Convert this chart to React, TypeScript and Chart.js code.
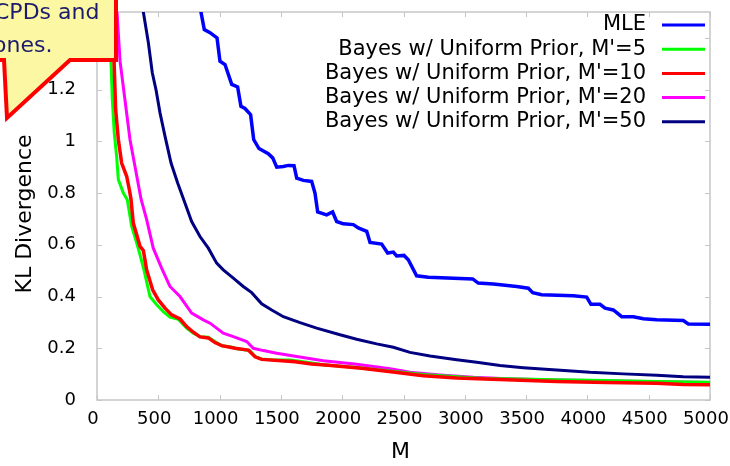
import React, { useEffect, useRef } from 'react';
import { Chart, registerables } from 'chart.js';

Chart.register(...registerables);

const FONT = '"DejaVu Sans", Verdana, sans-serif';

const xTicks = [0, 500, 1000, 1500, 2000, 2500, 3000, 3500, 4000, 4500, 5000];
const yTicks = [0, 0.2, 0.4, 0.6, 0.8, 1, 1.2, 1.4];

const seriesLabels = [
  'MLE',
  "Bayes w/ Uniform Prior, M'=5",
  "Bayes w/ Uniform Prior, M'=10",
  "Bayes w/ Uniform Prior, M'=20",
  "Bayes w/ Uniform Prior, M'=50",
];
const seriesColors = ['#0000ff', '#00ff00', '#ff0000', '#ff00ff', '#000080'];
const calloutLines = ['CPDs and', 'ones.'];
const xTitle = 'M';
const yTitle = 'KL Divergence';

const mleM = [800, 848, 875, 922, 979, 1003, 1044, 1099, 1147, 1174, 1207, 1253, 1278, 1321, 1397, 1433, 1466, 1520, 1561, 1607, 1629, 1683, 1751, 1778, 1800, 1873, 1922, 1955, 2009, 2091, 2131, 2200, 2227, 2322, 2371, 2417, 2444, 2504, 2539, 2607, 2702, 3064, 3110, 3233, 3423, 3518, 3554, 3627, 3885, 3994, 4029, 4103, 4144, 4211, 4280, 4375, 4456, 4565, 4782, 4823, 5000];
const mleKL = [1.66, 1.50, 1.432, 1.42, 1.40, 1.31, 1.297, 1.22, 1.21, 1.135, 1.127, 1.103, 1.007, 0.972, 0.952, 0.936, 0.90, 0.903, 0.907, 0.906, 0.858, 0.849, 0.845, 0.80, 0.727, 0.716, 0.727, 0.690, 0.681, 0.678, 0.665, 0.652, 0.609, 0.603, 0.568, 0.572, 0.557, 0.559, 0.542, 0.48, 0.475, 0.468, 0.452, 0.448, 0.439, 0.432, 0.415, 0.407, 0.403, 0.398, 0.370, 0.370, 0.355, 0.348, 0.322, 0.322, 0.314, 0.310, 0.307, 0.294, 0.293];

const b5M = [90, 114, 125, 141, 160, 174, 215, 247, 283, 324, 351, 383, 432, 487, 541, 595, 663, 731, 786, 840, 908, 962, 1017, 1085, 1153, 1248, 1289, 1343, 1438, 1574, 1710, 1846, 2118, 2390, 2662, 2934, 3192, 3342, 3749, 4157, 4565, 5000];
const b5KL = [1.70, 1.31, 1.161, 1.032, 0.942, 0.852, 0.80, 0.774, 0.671, 0.607, 0.561, 0.503, 0.40, 0.368, 0.342, 0.320, 0.312, 0.278, 0.258, 0.245, 0.243, 0.226, 0.210, 0.206, 0.197, 0.191, 0.168, 0.159, 0.155, 0.155, 0.146, 0.136, 0.126, 0.112, 0.099, 0.090, 0.082, 0.082, 0.078, 0.075, 0.072, 0.069];

const b10M = [110, 139, 152, 174, 201, 242, 264, 277, 296, 351, 378, 405, 454, 500, 555, 609, 677, 731, 786, 840, 908, 962, 1017, 1126, 1234, 1289, 1343, 1507, 1615, 1751, 1887, 2159, 2431, 2662, 2934, 3342, 3749, 4157, 4565, 4782, 5000];
const b10KL = [1.70, 1.31, 1.123, 1.007, 0.916, 0.865, 0.813, 0.777, 0.684, 0.594, 0.578, 0.503, 0.426, 0.387, 0.355, 0.329, 0.313, 0.284, 0.262, 0.244, 0.240, 0.222, 0.210, 0.200, 0.193, 0.167, 0.157, 0.152, 0.148, 0.139, 0.134, 0.123, 0.107, 0.094, 0.085, 0.078, 0.072, 0.068, 0.065, 0.060, 0.059];

const b20M = [150, 188, 228, 269, 310, 359, 405, 459, 527, 595, 677, 772, 867, 922, 1030, 1112, 1221, 1275, 1357, 1466, 1629, 1846, 2118, 2390, 2553, 2798, 3070, 3342, 3749, 4157, 4565, 5000];
const b20KL = [1.60, 1.31, 1.161, 1.007, 0.903, 0.777, 0.697, 0.587, 0.51, 0.439, 0.40, 0.336, 0.31, 0.297, 0.258, 0.245, 0.226, 0.2, 0.191, 0.181, 0.168, 0.152, 0.138, 0.121, 0.107, 0.097, 0.088, 0.082, 0.077, 0.074, 0.071, 0.068];

const b50M = [330, 378, 419, 451, 481, 514, 555, 604, 658, 718, 772, 840, 908, 976, 1030, 1112, 1193, 1262, 1343, 1425, 1520, 1656, 1792, 1982, 2118, 2281, 2417, 2553, 2716, 2934, 3097, 3287, 3477, 3749, 4021, 4293, 4565, 4782, 5000];
const b50KL = [1.70, 1.50, 1.381, 1.265, 1.20, 1.11, 1.019, 0.916, 0.839, 0.761, 0.690, 0.632, 0.587, 0.529, 0.503, 0.471, 0.439, 0.415, 0.372, 0.348, 0.322, 0.299, 0.278, 0.252, 0.235, 0.217, 0.204, 0.184, 0.170, 0.156, 0.146, 0.133, 0.125, 0.116, 0.107, 0.101, 0.096, 0.090, 0.088];

const seriesX = [mleM, b5M, b10M, b20M, b50M];
const seriesY = [mleKL, b5KL, b10KL, b20KL, b50KL];
const seriesWidth = [3.5, 3, 3.5, 3, 3];
const seriesOrder = [0, 2, 1, 3, 4];

const zeroPad = (s: any) => {
  s.paddingLeft = 0;
  s.paddingRight = 0;
  s.paddingTop = 0;
  s.paddingBottom = 0;
};

const decor = {
  id: 'decor',
  beforeDatasetsDraw(chart: any) {
    const { ctx, chartArea, scales } = chart;
    const { left, right, top, bottom } = chartArea;
    ctx.save();
    ctx.strokeStyle = '#c6c6c6';
    ctx.lineWidth = 1;
    const tl = 5;
    ctx.beginPath();
    xTicks.forEach((v) => {
      const px = Math.round(scales.x.getPixelForValue(v)) + 0.5;
      ctx.moveTo(px, bottom);
      ctx.lineTo(px, bottom - tl);
      ctx.moveTo(px, top);
      ctx.lineTo(px, top + tl);
    });
    yTicks.forEach((v) => {
      const py = Math.round(scales.y.getPixelForValue(v)) + 0.5;
      ctx.moveTo(left, py);
      ctx.lineTo(left + tl, py);
      ctx.moveTo(right, py);
      ctx.lineTo(right - tl, py);
    });
    ctx.stroke();
    ctx.lineWidth = 1.5;
    ctx.strokeRect(left, top, right - left, bottom - top);
    ctx.restore();
  },
  afterDraw(chart: any) {
    const { ctx, chartArea } = chart;
    ctx.save();
    // legend
    ctx.font = `21px ${FONT}`;
    ctx.textAlign = 'right';
    ctx.textBaseline = 'middle';
    seriesLabels.forEach((lab, i) => {
      const ry = 25 + i * 24.2;
      ctx.fillStyle = '#000';
      ctx.fillText(lab, 646, ry);
      ctx.beginPath();
      ctx.strokeStyle = seriesColors[i];
      ctx.lineWidth = 3;
      ctx.moveTo(662, ry);
      ctx.lineTo(705, ry);
      ctx.stroke();
    });
    // axis titles
    ctx.fillStyle = '#000';
    ctx.font = `22px ${FONT}`;
    ctx.textAlign = 'center';
    ctx.textBaseline = 'middle';
    ctx.fillText(xTitle, (chartArea.left + chartArea.right) / 2 - 3, 452);
    ctx.save();
    ctx.translate(25, 214);
    ctx.rotate(-Math.PI / 2);
    ctx.fillText(yTitle, 0, 0);
    ctx.restore();
    // callout
    ctx.beginPath();
    ctx.moveTo(-10, -10);
    ctx.lineTo(116, -10);
    ctx.lineTo(116, 60);
    ctx.lineTo(70, 60);
    ctx.lineTo(7, 118);
    ctx.lineTo(4, 60);
    ctx.lineTo(-10, 60);
    ctx.closePath();
    ctx.fillStyle = '#fbf7a2';
    ctx.fill();
    ctx.strokeStyle = '#ff0000';
    ctx.lineWidth = 4;
    ctx.lineJoin = 'miter';
    ctx.stroke();
    ctx.fillStyle = '#1c1c6e';
    ctx.font = `22px ${FONT}`;
    ctx.textAlign = 'left';
    ctx.textBaseline = 'alphabetic';
    ctx.fillText(calloutLines[0], -6, 19);
    ctx.fillText(calloutLines[1], -7, 52);
    ctx.restore();
  },
};

export default function App() {
  const ref = useRef<HTMLCanvasElement | null>(null);
  useEffect(() => {
    if (!ref.current) return;
    const datasets = seriesLabels.map((label, i) => ({
      label,
      data: seriesX[i].map((m, j) => ({ x: m, y: seriesY[i][j] })),
      borderColor: seriesColors[i],
      backgroundColor: seriesColors[i],
      borderWidth: seriesWidth[i],
      pointRadius: 0,
      tension: 0,
      fill: false,
      clip: 0,
      order: seriesOrder[i],
    }));
    const chart = new Chart(ref.current, {
      type: 'line',
      data: { datasets },
      options: {
        animation: false,
        responsive: false,
        devicePixelRatio: 1,
        layout: { padding: { left: 0, right: 20, top: 12, bottom: 0 } },
        plugins: { legend: { display: false }, tooltip: { enabled: false } },
        scales: {
          x: {
            type: 'linear',
            min: 0,
            max: 5000,
            afterBuildTicks: (s: any) => {
              s.ticks = xTicks.map((v) => ({ value: v }));
            },
            afterFit: (s: any) => {
              s.height = 66;
              zeroPad(s);
            },
            ticks: {
              font: { family: FONT, size: 18 },
              color: '#000',
              padding: 9,
              labelOffset: -4,
              maxRotation: 0,
              autoSkip: false,
              callback: (v: any) => String(v),
            },
            grid: { display: false, drawTicks: false },
            border: { display: false },
          },
          y: {
            type: 'linear',
            min: 0,
            max: 1.5,
            afterBuildTicks: (s: any) => {
              s.ticks = yTicks.map((v) => ({ value: v }));
            },
            afterFit: (s: any) => {
              s.width = 97;
              zeroPad(s);
            },
            ticks: {
              font: { family: FONT, size: 18 },
              color: '#000',
              padding: 21,
              autoSkip: false,
              callback: (v: any) => String(Math.round(Number(v) * 10) / 10),
            },
            grid: { display: false, drawTicks: false },
            border: { display: false },
          },
        },
      },
      plugins: [decor],
    });
    return () => chart.destroy();
  }, []);
  return (
    <div style={{ position: 'fixed', left: 0, top: 0, width: 730, height: 466, background: '#fff' }}>
      <canvas ref={ref} width={730} height={466} style={{ width: 730, height: 466, display: 'block' }} />
    </div>
  );
}
